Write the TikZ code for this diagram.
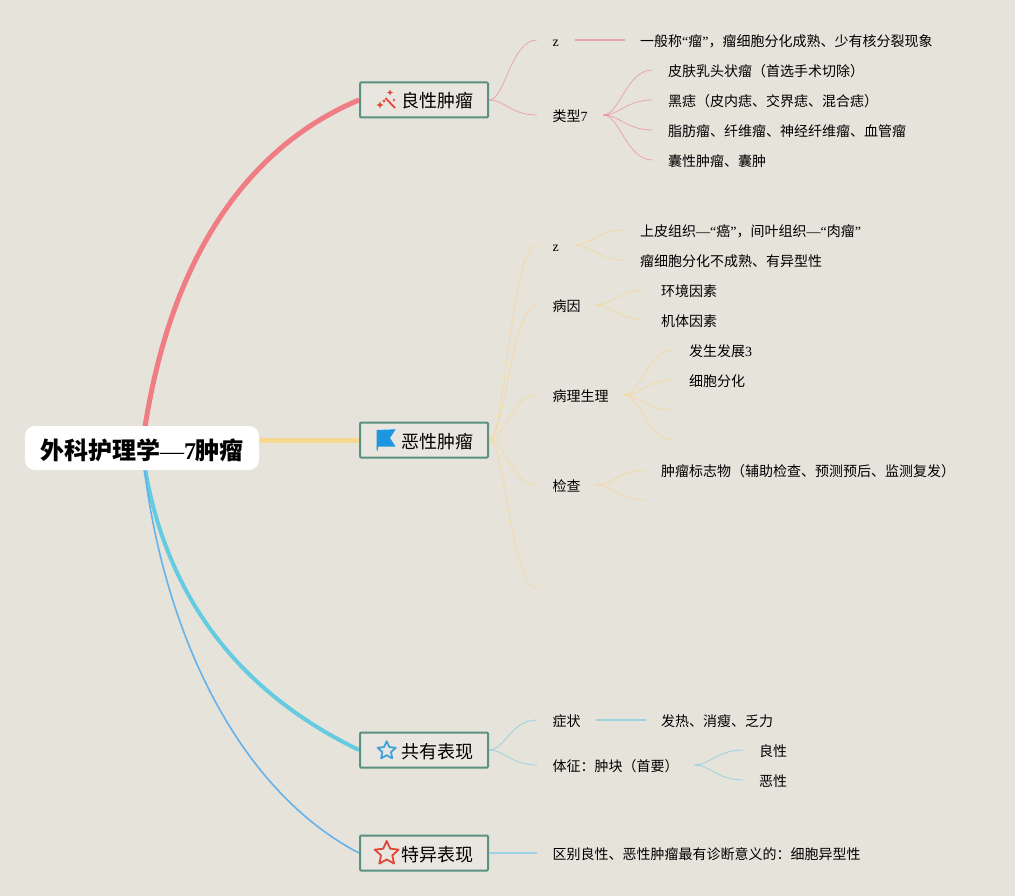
\documentclass[tikz,border=0pt]{standalone}
\usepackage{fontspec}
\setmainfont{Liberation Serif}
\newfontfamily\cjk{Noto Sans CJK SC}
\usetikzlibrary{shapes.geometric,backgrounds}
\newcommand{\lat}[1]{{\rmfamily #1}}
\definecolor{paper}{HTML}{E6E3DB}
\definecolor{boxfill}{HTML}{E9E6DF}
\definecolor{boxline}{HTML}{5B9182}
\definecolor{redmain}{HTML}{F07C84}
\definecolor{redthin}{HTML}{EC8490}
\definecolor{yellowmain}{HTML}{F8D88E}
\definecolor{yellowthin}{HTML}{F9D58A}
\definecolor{tealmain}{HTML}{64CBE0}
\definecolor{tealthin}{HTML}{74C9E0}
\definecolor{bluemain}{HTML}{66B2EA}
\definecolor{bluethin}{HTML}{A0CFEA}
\definecolor{iconred}{HTML}{E2463A}
\definecolor{iconblue}{HTML}{1E96E0}
\definecolor{starblue}{HTML}{3FA3DE}
\begin{document}
\begin{tikzpicture}[
    x=1pt, y=-1pt,
    root/.style={fill=white, rounded corners=10pt, minimum width=234pt, minimum height=44pt, inner sep=0pt, text height=22pt, text depth=0pt, font=\cjk\fontsize{24}{26}\selectfont\bfseries},
    topic/.style={draw=boxline, line width=2pt, fill=boxfill, rounded corners=1pt, text width=98pt, align=right, inner xsep=15pt, minimum height=35pt, inner ysep=0pt, text height=16pt, text depth=0pt, font=\cjk\fontsize{18}{20}\selectfont},
    leaf/.style={anchor=west, inner xsep=15.5pt, inner ysep=0pt, text height=13pt, text depth=0pt, font=\cjk\fontsize{14}{16}\selectfont},
    link/.style={out=0, in=180, out distance=16pt, in distance=26pt, line width=0.8pt, draw opacity=0.65},
    spark/.style={star, star points=4, star point ratio=2.4, fill=iconred, inner sep=0pt}
  ]
    % Root and topics
    \node[root] (root) at (142,448) {外科护理学{\rmfamily\mdseries —}\lat{7}肿瘤};
    \node[topic] (benign) at (424,100) {良性肿瘤};
    \node[topic] (malign) at (424,440) {恶性肿瘤};
    \node[topic] (common) at (424,750) {共有表现};
    \node[topic] (special) at (424,853) {特异表现};

    % Benign
    \node[leaf] (bz) at (537,40) {\lat{z}};
    \node[leaf] (btype) at (537,115) {类型\lat{7}};
    \node[leaf] (bname) at (624.5,40) {一般称\lat{“}瘤\lat{”}，瘤细胞分化成熟、少有核分裂现象};
    \node[leaf] (bt1) at (652.5,70) {皮肤乳头状瘤（首选手术切除）};
    \node[leaf] (bt2) at (652.5,100) {黑痣（皮内痣、交界痣、混合痣）};
    \node[leaf] (bt3) at (652.5,130) {脂肪瘤、纤维瘤、神经纤维瘤、血管瘤};
    \node[leaf] (bt4) at (652.5,160) {囊性肿瘤、囊肿};

    % Malignant
    \node[leaf] (mz) at (537,245) {\lat{z}};
    \node[leaf] (mcause) at (537,305) {病因};
    \node[leaf] (mpath) at (537,395) {病理生理};
    \node[leaf] (mcheck) at (537,485) {检查};
    \coordinate (mend) at (537,588);
    \node[leaf] (mz1) at (624.5,230) {上皮组织\lat{—“}癌\lat{”}，间叶组织\lat{—“}肉瘤\lat{”}};
    \node[leaf] (mz2) at (624.5,260) {瘤细胞分化不成熟、有异型性};
    \node[leaf] (mc1) at (645.5,290) {环境因素};
    \node[leaf] (mc2) at (645.5,320) {机体因素};
    \node[leaf] (mp1) at (673.5,350) {发生发展\lat{3}};
    \node[leaf] (mp2) at (673.5,380) {细胞分化};
    \coordinate (mp3) at (673.5,410);
    \coordinate (mp4) at (673.5,440);
    \node[leaf] (mk1) at (645.5,470) {肿瘤标志物（辅助检查、预测预后、监测复发）};
    \coordinate (mk2) at (645.5,500);

    % Common
    \node[leaf] (csym) at (537,720) {症状};
    \node[leaf] (csign) at (537,765) {体征：肿块（首要）};
    \node[leaf] (cfever) at (645.5,720) {发热、消瘦、乏力};
    \node[leaf] (cgood) at (743.5,750) {良性};
    \node[leaf] (cbad) at (743.5,780) {恶性};

    % Special
    \node[leaf] (sdiag) at (537,853) {区别良性、恶性肿瘤最有诊断意义的：细胞异型性};

    % Icons
    \draw[iconred, line width=1.8pt] (385.5,98) -- (395,108);
    \foreach \x/\y/\r in {380/105/7, 384/101/4, 390/92.5/6, 394/100/3.5}
      \node[spark, minimum size=\r pt] (spark\x) at (\x,\y) {};
    \fill[iconblue] (376.7,430) -- (395.7,429.3) -- (390,438) -- (395.7,446.7) -- (378.3,446.7) -- (377.5,450.5) -- (376.7,450.5) -- cycle;
    \node[star, star points=5, star point ratio=2.1, draw=starblue, line width=1.8pt, line join=round, minimum size=19pt, inner sep=0pt] (bluestar) at (386.7,750.7) {};
    \node[star, star points=5, star point ratio=2.1, draw=iconred, line width=1.8pt, line join=round, minimum size=25pt, inner sep=0pt] (redstar) at (386.7,853.5) {};

    % Connections
    \begin{pgfonlayer}{background}
      \fill[paper] (0,0) rectangle (1015,896);
      \draw[redmain, line width=5pt] (root.center) .. controls (165,270) and (240,150) .. (benign.west);
      \draw[yellowmain, line width=5pt] (root.center |- malign.west) -- (malign.west);
      \draw[tealmain, line width=4pt] (root.center) .. controls (160,590) and (235,690) .. (common.west);
      \draw[bluemain, line width=1.6pt] (root.center) .. controls (160,630) and (238,790) .. (special.west);
    \end{pgfonlayer}

    \foreach \j in {bz,btype}
      \draw[redthin, link] (benign.east) to (\j.west);
    \draw[redthin, line width=1.2pt, draw opacity=0.65] (bz.east) -- (bname.west);
    \foreach \j in {1,2,3,4}
      \draw[redthin, link] (btype.east) to (bt\j.west);

    \foreach \j in {mz,mcause,mpath,mcheck}
      \draw[yellowthin, link] (malign.east) to (\j.west);
    \draw[yellowthin, link] (malign.east) to (mend);
    \foreach \j in {mz1,mz2}
      \draw[yellowthin, link] (mz.east) to (\j.west);
    \foreach \j in {mc1,mc2}
      \draw[yellowthin, link] (mcause.east) to (\j.west);
    \foreach \j in {mp1,mp2}
      \draw[yellowthin, link] (mpath.east) to (\j.west);
    \foreach \j in {mp3,mp4}
      \draw[yellowthin, link] (mpath.east) to (\j);
    \draw[yellowthin, link] (mcheck.east) to (mk1.west);
    \draw[yellowthin, link] (mcheck.east) to (mk2);

    \foreach \j in {csym,csign}
      \draw[tealthin, link] (common.east) to (\j.west);
    \draw[tealthin, line width=1.2pt, draw opacity=0.65] (csym.east) -- (cfever.west);
    \foreach \j in {cgood,cbad}
      \draw[tealthin, link] (csign.east) to (\j.west);

    \draw[bluethin, line width=1.2pt] (special.east) -- (sdiag.west);
  \end{tikzpicture}
\end{document}
